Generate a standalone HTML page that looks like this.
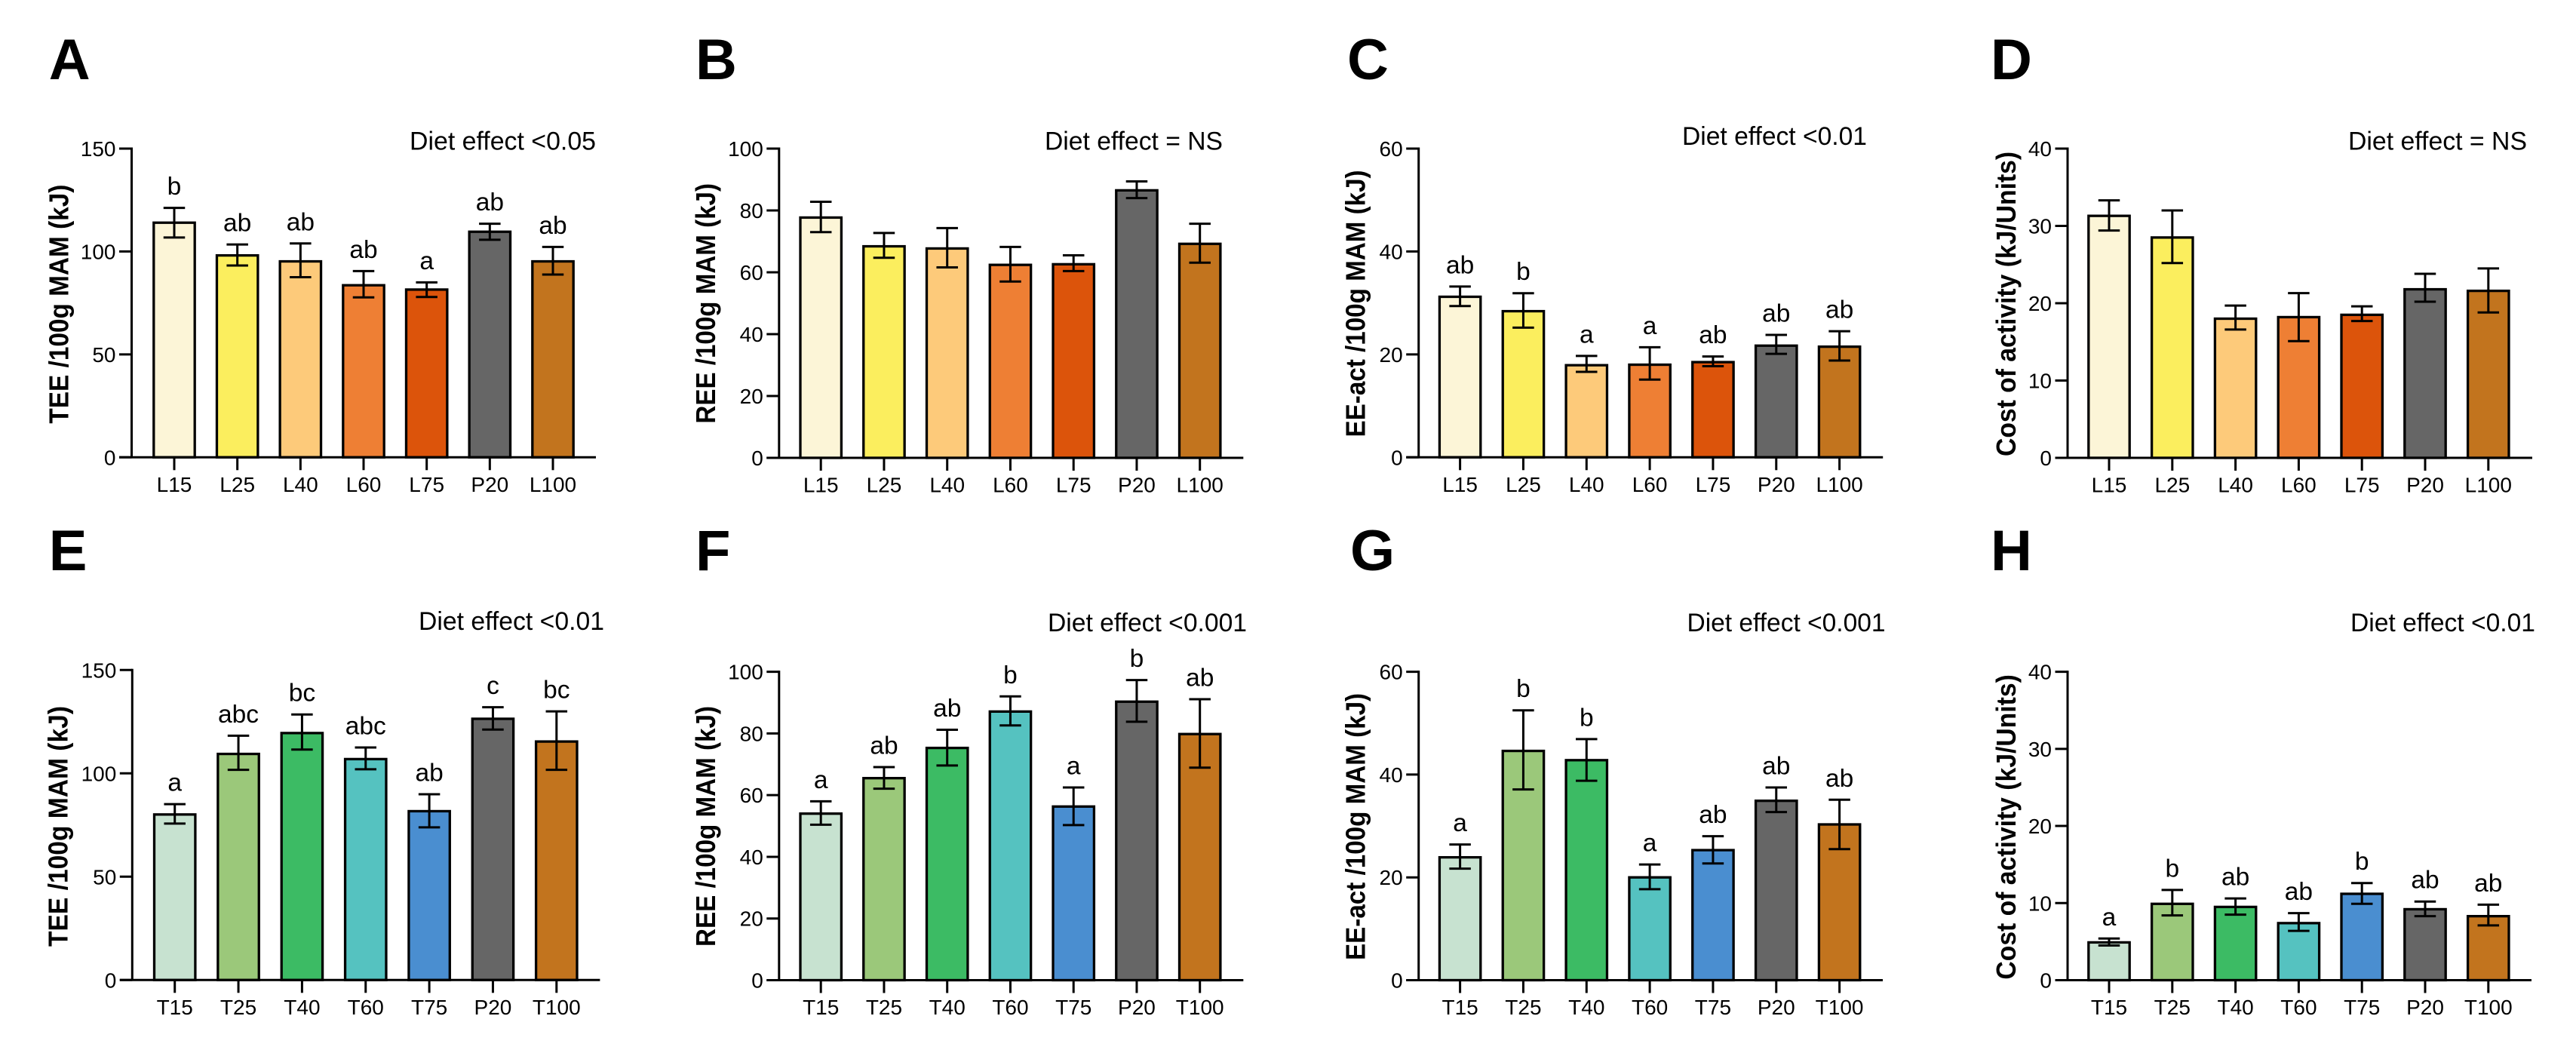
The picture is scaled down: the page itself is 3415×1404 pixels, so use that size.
<!DOCTYPE html>
<html lang="en">
<head>
<meta charset="utf-8">
<title>Energy expenditure by diet</title>
<style>
html,body{margin:0;padding:0;background:#fff;}
body{width:3415px;height:1404px;overflow:hidden;}
svg{display:block;}
text{font-family:"Liberation Sans",Arial,sans-serif;fill:#000;}
</style>
</head>
<body>
<svg id="figure" xmlns="http://www.w3.org/2000/svg" width="3415" height="1404" viewBox="0 0 3415 1404"></svg>
<script>
// ---------- Categories ----------
const categoriesLipid = ["L15", "L25", "L40", "L60", "L75", "P20", "L100"];
const categoriesTotal = ["T15", "T25", "T40", "T60", "T75", "P20", "T100"];

// ---------- Colours ----------
const coloursLipid = ["#FCF5D7", "#FBEE5E", "#FDCA7A", "#EE7F34", "#DC540B", "#666666", "#C2741E"];
const coloursTotal = ["#C7E2D0", "#9BC87A", "#3CBB64", "#55C2C0", "#4A8ED0", "#666666", "#C2741E"];

// ---------- Tick labels ----------
const ticks150 = [0, 50, 100, 150];
const ticks100 = [0, 20, 40, 60, 80, 100];
const ticks60 = [0, 20, 40, 60];
const ticks40 = [0, 10, 20, 30, 40];

// ---------- Panel A ----------
const meansA = [114, 98.1, 95.2, 83.6, 81.5, 109.6, 95.2];
const upperA = [121.2, 103.4, 103.9, 90.5, 85, 113.5, 102.2];
const lowerA = [106.8, 93.2, 87.5, 77.7, 77.9, 105.7, 88.8];
const lettersA = ["b", "ab", "ab", "ab", "a", "ab", "ab"];

// ---------- Panel B ----------
const meansB = [77.7, 68.4, 67.7, 62.4, 62.6, 86.5, 69.2];
const upperB = [82.8, 72.7, 74.3, 68.2, 65.5, 89.4, 75.7];
const lowerB = [73, 64.7, 61.6, 57, 60.4, 84, 63.1];
const lettersB = ["", "", "", "", "", "", ""];

// ---------- Panel C ----------
const meansC = [31.2, 28.4, 17.9, 18, 18.5, 21.7, 21.5];
const upperC = [33.2, 31.9, 19.7, 21.4, 19.6, 23.8, 24.5];
const lowerC = [29.4, 25.2, 16.6, 15.1, 17.7, 20.1, 18.8];
const lettersC = ["ab", "b", "a", "a", "ab", "ab", "ab"];

// ---------- Panel D ----------
const meansD = [31.3, 28.5, 18, 18.2, 18.5, 21.8, 21.6];
const upperD = [33.3, 32, 19.7, 21.3, 19.6, 23.8, 24.5];
const lowerD = [29.4, 25.2, 16.6, 15.1, 17.7, 20.2, 18.8];
const lettersD = ["", "", "", "", "", "", ""];

// ---------- Panel E ----------
const meansE = [80.1, 109.4, 119.5, 106.9, 81.7, 126.4, 115.4];
const upperE = [85.1, 118.2, 128.5, 112.5, 89.9, 132, 130];
const lowerE = [75.7, 101.7, 111.5, 102, 73.9, 121.2, 101.7];
const lettersE = ["a", "abc", "bc", "abc", "ab", "c", "bc"];

// ---------- Panel F ----------
const meansF = [54, 65.5, 75.3, 87.1, 56.3, 90.3, 79.8];
const upperF = [58, 69.1, 81.2, 92, 62.5, 97.3, 91.1];
const lowerF = [50.4, 62.1, 69.6, 82.6, 50.3, 83.8, 68.9];
const lettersF = ["a", "ab", "ab", "b", "a", "b", "ab"];

// ---------- Panel G ----------
const meansG = [23.9, 44.6, 42.8, 20, 25.3, 34.9, 30.3];
const upperG = [26.4, 52.5, 46.9, 22.5, 28, 37.5, 35.1];
const lowerG = [21.7, 37.1, 38.8, 17.7, 22.7, 32.7, 25.5];
const lettersG = ["a", "b", "b", "a", "ab", "ab", "ab"];

// ---------- Panel H ----------
const meansH = [4.9, 9.9, 9.5, 7.4, 11.2, 9.2, 8.3];
const upperH = [5.4, 11.7, 10.6, 8.7, 12.6, 10.2, 9.8];
const lowerH = [4.5, 8.4, 8.5, 6.4, 9.9, 8.3, 7.1];
const lettersH = ["a", "b", "ab", "ab", "b", "ab", "ab"];

// ---------- Panel wiring and layout ----------
const panels = [
  {id:"A", cats:categoriesLipid, cols:coloursLipid, yTicks:ticks150, means:meansA, upper:upperA, lower:lowerA, letters:lettersA,
   title:"TEE /100g MAM (kJ)", note:"Diet effect <0.05",
   box:{axisX:174.5, first:231, last:733, end:790, top:197, base:606.3},
   tPos:{x:90.5, y0:561.6, y1:244.6}, nPos:{x0:543, x1:790, y:198.7}, lPos:{x:64.7, y:105}},
  {id:"B", cats:categoriesLipid, cols:coloursLipid, yTicks:ticks100, means:meansB, upper:upperB, lower:lowerB, letters:lettersB,
   title:"REE /100g MAM (kJ)", note:"Diet effect = NS",
   box:{axisX:1032.8, first:1088.2, last:1590.7, end:1648.3, top:197, base:607},
   tPos:{x:947.8, y0:561.6, y1:243}, nPos:{x0:1385, x1:1621, y:198.7}, lPos:{x:922, y:105}},
  {id:"C", cats:categoriesLipid, cols:coloursLipid, yTicks:ticks60, means:meansC, upper:upperC, lower:lowerC, letters:lettersC,
   title:"EE-act /100g MAM (kJ)", note:"Diet effect <0.01",
   box:{axisX:1880.7, first:1935.6, last:2438.6, end:2496.2, top:197, base:606.3},
   tPos:{x:1809.4, y0:579.5, y1:225.4}, nPos:{x0:2230, x1:2475, y:192}, lPos:{x:1786, y:105}},
  {id:"D", cats:categoriesLipid, cols:coloursLipid, yTicks:ticks40, means:meansD, upper:upperD, lower:lowerD, letters:lettersD,
   title:"Cost of activity (kJ/Units)", note:"Diet effect = NS",
   box:{axisX:2741, first:2796, last:3298.8, end:3357, top:197, base:607},
   tPos:{x:2671.8, y0:605, y1:200.9}, nPos:{x0:3113, x1:3350, y:198.7}, lPos:{x:2639, y:105}},
  {id:"E", cats:categoriesTotal, cols:coloursTotal, yTicks:ticks150, means:meansE, upper:upperE, lower:lowerE, letters:lettersE,
   title:"TEE /100g MAM (kJ)", note:"Diet effect <0.01",
   box:{axisX:175.3, first:231.7, last:737.8, end:795.4, top:888.3, base:1299.3},
   tPos:{x:89.4, y0:1255, y1:936}, nPos:{x0:555, x1:801, y:834.8}, lPos:{x:64.7, y:756}},
  {id:"F", cats:categoriesTotal, cols:coloursTotal, yTicks:ticks100, means:meansF, upper:upperF, lower:lowerF, letters:lettersF,
   title:"REE /100g MAM (kJ)", note:"Diet effect <0.001",
   box:{axisX:1032.8, first:1088.2, last:1590.7, end:1648.3, top:890.6, base:1299.5},
   tPos:{x:947.8, y0:1255, y1:936}, nPos:{x0:1389, x1:1653, y:837}, lPos:{x:922, y:756}},
  {id:"G", cats:categoriesTotal, cols:coloursTotal, yTicks:ticks60, means:meansG, upper:upperG, lower:lowerG, letters:lettersG,
   title:"EE-act /100g MAM (kJ)", note:"Diet effect <0.001",
   box:{axisX:1880.7, first:1935.6, last:2438.6, end:2496, top:890.6, base:1299.5},
   tPos:{x:1809.4, y0:1273, y1:918.9}, nPos:{x0:2236.5, x1:2499.5, y:837}, lPos:{x:1790, y:756}},
  {id:"H", cats:categoriesTotal, cols:coloursTotal, yTicks:ticks40, means:meansH, upper:upperH, lower:lowerH, letters:lettersH,
   title:"Cost of activity (kJ/Units)", note:"Diet effect <0.01",
   box:{axisX:2741, first:2796, last:3298.8, end:3356, top:890.6, base:1299.5},
   tPos:{x:2671.8, y0:1298.6, y1:894.2}, nPos:{x0:3116, x1:3361, y:837}, lPos:{x:2639, y:756}}
];

const SVG_NS = "http://www.w3.org/2000/svg";
const figure = document.getElementById("figure");
const BAR_W = 54.4, CAP_W = 28.5, TICK_LEN = 16.5, LETTER_GAP = 17.5;

function make(parent, tag, attrs, content) {
  const el = document.createElementNS(SVG_NS, tag);
  for (const k in attrs) el.setAttribute(k, attrs[k]);
  if (content !== undefined) el.textContent = content;
  parent.appendChild(el);
  return el;
}
function hLine(parent, x1, x2, y, sw) {
  return make(parent, "line", {x1:x1, x2:x2, y1:y, y2:y, stroke:"#000", "stroke-width":sw});
}
function vLine(parent, x, y1, y2, sw) {
  return make(parent, "line", {x1:x, x2:x, y1:y1, y2:y2, stroke:"#000", "stroke-width":sw});
}

panels.forEach(function (p) {
  const b = p.box;
  const yMax = p.yTicks[p.yTicks.length - 1];
  const yScale = function (v) { return b.base - (v / yMax) * (b.base - b.top); };
  const xScale = function (i) { return b.first + i * (b.last - b.first) / (p.cats.length - 1); };

  const group = make(figure, "g", {});
  
  

  const panelLabel = make(group, "text", {x:p.lPos.x, y:p.lPos.y, "font-size":76, "font-weight":"bold"}, p.id);
  
  

  const note = make(group, "text", {x:p.nPos.x0, y:p.nPos.y, "font-size":34, textLength:p.nPos.x1 - p.nPos.x0, lengthAdjust:"spacingAndGlyphs"}, p.note);
  
  

  const yTitle = make(group, "text", {
    transform:"translate(" + p.tPos.x + "," + p.tPos.y0 + ") rotate(-90)",
    x:0, y:0, "font-size":36, "font-weight":"bold",
    textLength:p.tPos.y0 - p.tPos.y1, lengthAdjust:"spacingAndGlyphs"
  }, p.title);
  
  

  // Bars, error bars and significance letters
  p.means.forEach(function (m, i) {
    const cx = xScale(i);
    const bar = make(group, "rect", {
      x:cx - BAR_W / 2, y:yScale(m), width:BAR_W, height:b.base - yScale(m),
      fill:p.cols[i], stroke:"#000", "stroke-width":3.3
    });
    
    

    const err = make(group, "g", {});
    
    
    vLine(err, cx, yScale(p.upper[i]), yScale(p.lower[i]), 3);
    hLine(err, cx - CAP_W / 2, cx + CAP_W / 2, yScale(p.upper[i]), 3);
    hLine(err, cx - CAP_W / 2, cx + CAP_W / 2, yScale(p.lower[i]), 3);

    if (p.letters[i]) {
      const letter = make(group, "text", {x:cx, y:yScale(p.upper[i]) - LETTER_GAP, "font-size":33.5, "text-anchor":"middle"}, p.letters[i]);
      
      
    }
  });

  // Y axis
  const yAxis = vLine(group, b.axisX, b.top - 1.5, b.base, 3);
  
  
  p.yTicks.forEach(function (t) {
    const tk = hLine(group, b.axisX - TICK_LEN, b.axisX, yScale(t), 3);
    
    
    const lab = make(group, "text", {x:b.axisX - TICK_LEN - 4.5, y:yScale(t) + 10, "font-size":28, "text-anchor":"end"}, String(t));
    
    
  });

  // X axis
  const xAxis = hLine(group, b.axisX - TICK_LEN, b.end, b.base, 3);
  
  
  p.cats.forEach(function (c, i) {
    const cx = xScale(i);
    const tk = vLine(group, cx, b.base, b.base + 17, 3);
    
    
    const lab = make(group, "text", {x:cx, y:b.base + 45.5, "font-size":28, "text-anchor":"middle"}, c);
    
    
  });
});
</script>
</body>
</html>
